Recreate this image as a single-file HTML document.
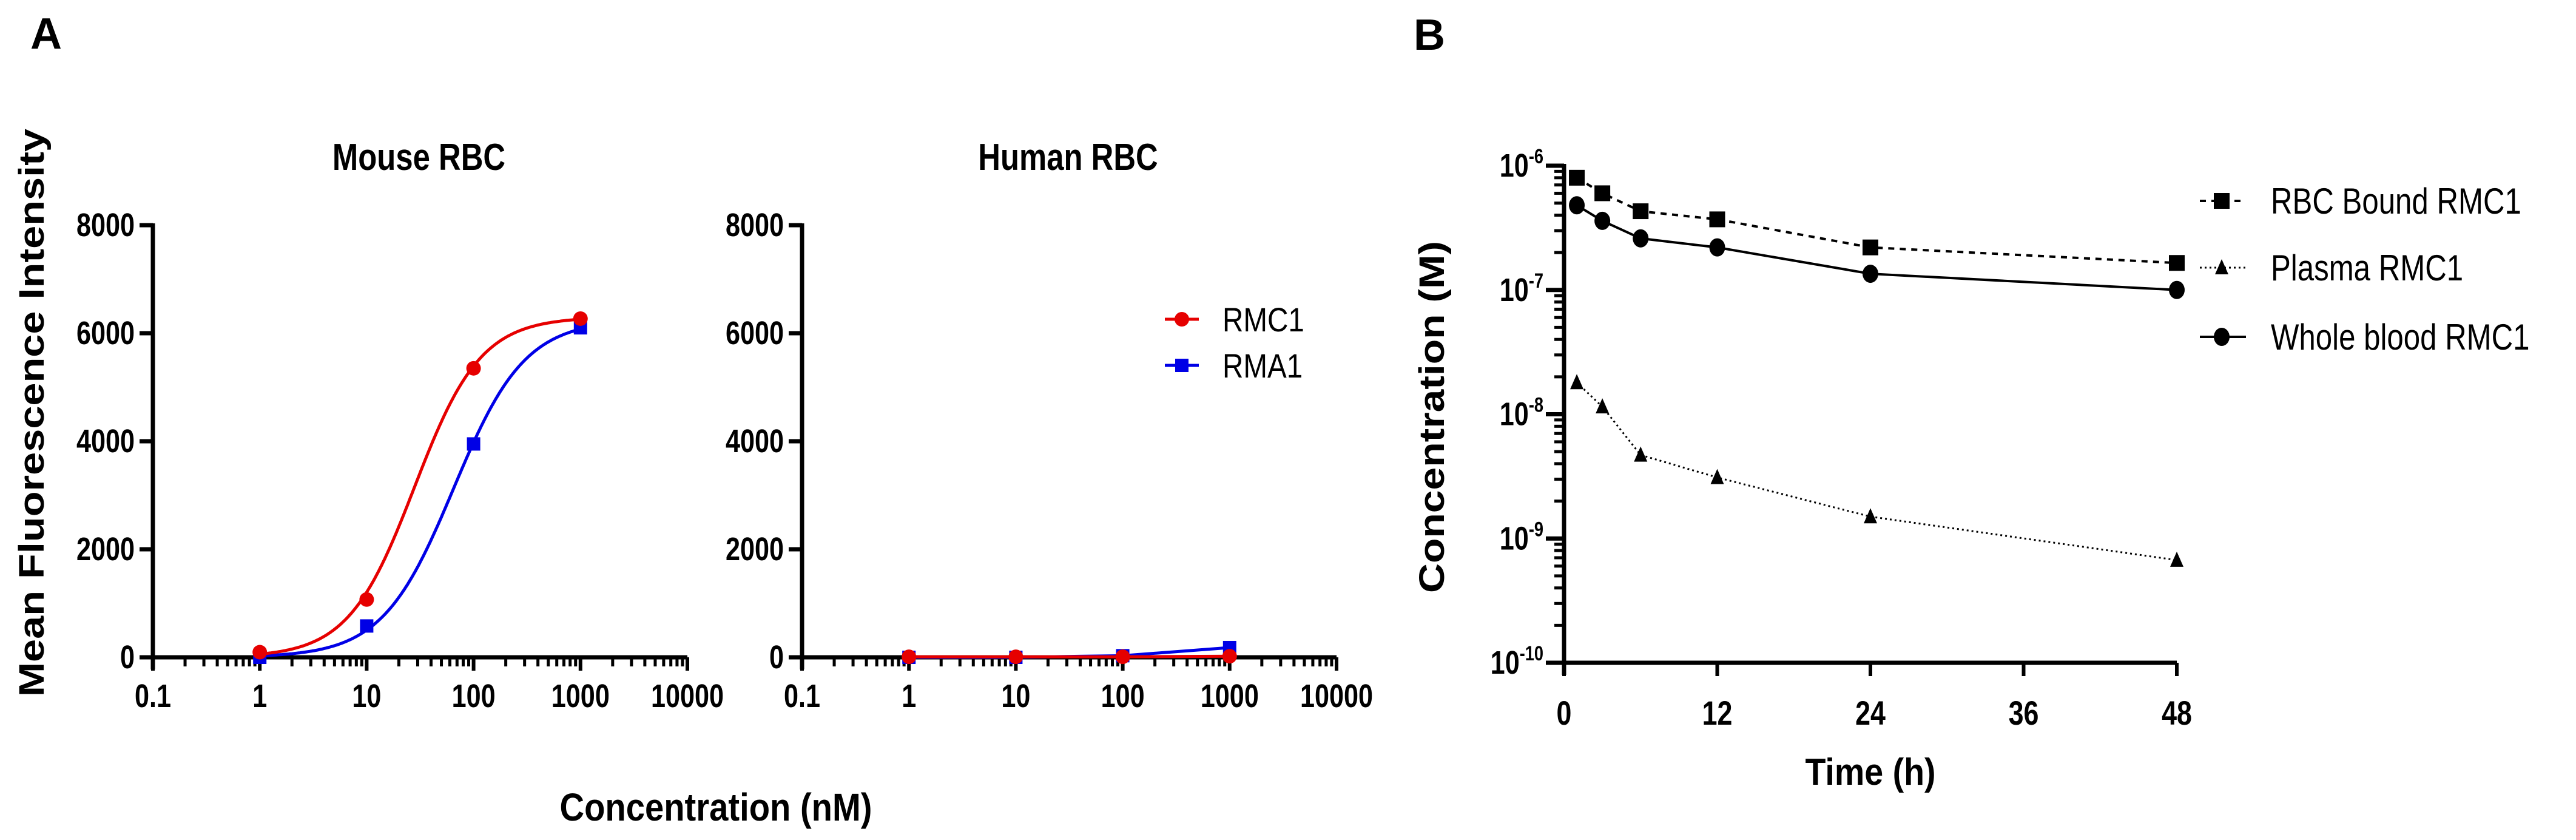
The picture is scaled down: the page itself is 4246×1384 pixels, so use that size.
<!DOCTYPE html>
<html><head><meta charset="utf-8"><style>
html,body{margin:0;padding:0;background:#fff;}
svg{display:block;}
text{font-family:"Liberation Sans",Arial,sans-serif;fill:#000;}
</style></head><body>
<svg id="fig" width="4246" height="1384" viewBox="0 0 4246 1384" xmlns="http://www.w3.org/2000/svg">
<text x="50" y="80" font-size="72" font-weight="bold">A</text>
<text x="2330" y="82" font-size="72" font-weight="bold">B</text>
<text transform="translate(72,680) rotate(-90)" text-anchor="middle" font-size="58" font-weight="bold" textLength="936" lengthAdjust="spacingAndGlyphs">Mean Fluorescence Intensity</text>
<text x="1180" y="1352" text-anchor="middle" font-size="64" font-weight="bold" textLength="515" lengthAdjust="spacingAndGlyphs">Concentration (nM)</text>
<text transform="translate(2380,687) rotate(-90)" text-anchor="middle" font-size="58" font-weight="bold" textLength="580" lengthAdjust="spacingAndGlyphs">Concentration (M)</text>
<text x="3083" y="1293" text-anchor="middle" font-size="62" font-weight="bold" textLength="215" lengthAdjust="spacingAndGlyphs">Time (h)</text>
<g id="gA"></g><g id="gB"></g>
</svg>
<script>
// Panel A data
const concA = [1, 10, 100, 1000];
const mouseRMC1 = [95, 1070, 5350, 6270];
const mouseRMA1 = [0, 580, 3950, 6100];
const humanRMC1 = [10, 10, 10, 20];
const humanRMA1 = [0, 0, 30, 180];
// fitted 4PL params: [top, EC50, hill]
const fitRMC1 = [6300, 28, 1.4];
const fitRMA1 = [6250, 65, 1.3];
const xTicksA = ["0.1", "1", "10", "100", "1000", "10000"];
const yTicksA = [0, 2000, 4000, 6000, 8000];
// Panel B data
const timeB = [1, 3, 6, 12, 24, 48];
const rbcBound = [8.0e-7, 6.0e-7, 4.3e-7, 3.7e-7, 2.2e-7, 1.65e-7];
const plasma = [1.8e-8, 1.15e-8, 4.7e-9, 3.1e-9, 1.5e-9, 6.7e-10];
const wholeBlood = [4.8e-7, 3.6e-7, 2.6e-7, 2.2e-7, 1.35e-7, 1.0e-7];
const xTicksB = [0, 12, 24, 36, 48];
const yExpB = [-10, -9, -8, -7, -6];

const NS = "http://www.w3.org/2000/svg";
function mk(tag, attrs, parent){const e=document.createElementNS(NS,tag);for(const k in attrs)e.setAttribute(k,attrs[k]);parent.appendChild(e);return e;}
function txt(parent,x,y,s,size,anchor,weight,sx){const t=mk('text',{'font-size':size,'text-anchor':anchor,'font-weight':weight,transform:`translate(${x},${y}) scale(${sx},1)`},parent);t.textContent=s;return t;}

const gA=document.getElementById('gA');
function panelA(x0, title, titleName, rmc, rma, fitted, withLegend){
  const xL=x0, xR=x0+881, yT=371, yB=1083;
  const X=v=>xL+(Math.log10(v)+1)*(xR-xL)/5;
  const Y=v=>yB-v/8000*(yB-yT);
  const g=mk('g',{},gA);
  
  
  const tt=txt(g,(xL+xR)/2-2,280,title,62,'middle','bold',0.82);
  
  
  mk('line',{x1:xL,y1:yT-3,x2:xL,y2:yB+20,stroke:'#000','stroke-width':7},g);
  mk('line',{x1:xL-22,y1:yB,x2:xR,y2:yB,stroke:'#000','stroke-width':7},g);
  yTicksA.forEach(v=>{
    mk('line',{x1:xL-22,y1:Y(v),x2:xL,y2:Y(v),stroke:'#000','stroke-width':7},g);
    const t=txt(g,xL-30,Y(v)+18,String(v),54,'end','bold',0.8);
    
    
  });
  xTicksA.forEach((s,i)=>{
    const v=parseFloat(s);
    mk('line',{x1:X(v),y1:yB,x2:X(v),y2:yB+22,stroke:'#000','stroke-width':6},g);
    const t=txt(g,X(v),yB+82,s,54,'middle','bold',0.8);
    
    
    if(i<xTicksA.length-1){for(let m=2;m<=9;m++){mk('line',{x1:X(v*m),y1:yB,x2:X(v*m),y2:yB+15,stroke:'#000','stroke-width':5},g);}}
  });
  const series=[[rma,'#0000e6','sq',fitRMA1,'RMA1'],[rmc,'#e60000','ci',fitRMC1,'RMC1']];
  series.forEach(([vals,col,mkType,fit,name])=>{
    let d='';
    if(fitted){
      for(let i=0;i<=200;i++){const lv=0+i*3/200;const c=Math.pow(10,lv);const y=fit[0]/(1+Math.pow(fit[1]/c,fit[2]));d+=(i?'L':'M')+X(c).toFixed(1)+','+Y(y).toFixed(1);}
    } else {
      vals.forEach((v,i)=>{d+=(i?'L':'M')+X(concA[i])+','+Y(v);});
    }
    const p=mk('path',{d:d,fill:'none',stroke:col,'stroke-width':5},g);
    
    
    vals.forEach((v,i)=>{
      let e;
      if(mkType==='sq') e=mk('rect',{x:X(concA[i])-11,y:Y(v)-11,width:22,height:22,fill:col},g);
      else e=mk('circle',{cx:X(concA[i]),cy:Y(v),r:12,fill:col},g);
      
      
    });
  });
  if(withLegend){
    [['RMC1','#e60000','ci',526],['RMA1','#0000e6','sq',602]].forEach(([n,c,t,y])=>{
      const lg=mk('g',{},g);
      
      
      mk('line',{x1:1920,y1:y,x2:1976,y2:y,stroke:c,'stroke-width':5},lg);
      if(t==='ci') mk('circle',{cx:1948,cy:y,r:12,fill:c},lg);
      else mk('rect',{x:1937,y:y-11,width:22,height:22,fill:c},lg);
      txt(lg,2015,y+20,n,56,'start','normal',0.85);
    });
  }
}
panelA(252,'Mouse RBC','mouse-rbc',mouseRMC1,mouseRMA1,true,false);
panelA(1322,'Human RBC','human-rbc',humanRMC1,humanRMA1,false,true);

// Panel B
const gB=document.getElementById('gB');
(function(){
  const xL=2578, xR=3588, yT=273, yB=1092;
  const X=t=>xL+t/48*(xR-xL);
  const Y=v=>yB-(Math.log10(v)+10)/4*(yB-yT);
  mk('line',{x1:xL,y1:yT-3,x2:xL,y2:yB+20,stroke:'#000','stroke-width':7},gB);
  mk('line',{x1:xL-3,y1:yB,x2:xR,y2:yB,stroke:'#000','stroke-width':7},gB);
  yExpB.forEach((e,i)=>{
    const v=Math.pow(10,e);
    mk('line',{x1:xL-30,y1:Y(v),x2:xL,y2:Y(v),stroke:'#000','stroke-width':7},gB);
    const t=mk('text',{'font-size':54,'font-weight':'bold','text-anchor':'end',transform:`translate(${xL-34},${Y(v)+18}) scale(0.8,1)`},gB);
    
    
    t.appendChild(document.createTextNode('10'));
    const ts=mk('tspan',{'font-size':34,dy:-22},t);ts.textContent=String(e);
    if(i<yExpB.length-1){for(let m=2;m<=9;m++){mk('line',{x1:xL-16,y1:Y(v*m),x2:xL,y2:Y(v*m),stroke:'#000','stroke-width':5},gB);}}
  });
  xTicksB.forEach(t=>{
    mk('line',{x1:X(t),y1:yB,x2:X(t),y2:yB+22,stroke:'#000','stroke-width':6},gB);
    const l=txt(gB,X(t),yB+102,String(t),56,'middle','bold',0.8);
    
    
  });
  const ser=[[rbcBound,'sq','10,9','rbc-bound'],[plasma,'tr','3,5','plasma'],[wholeBlood,'ci','','whole-blood']];
  ser.forEach(([vals,m,dash,name])=>{
    let d='';vals.forEach((v,i)=>{d+=(i?'L':'M')+X(timeB[i])+','+Y(v);});
    const p=mk('path',{d:d,fill:'none',stroke:'#000','stroke-width':m==='tr'?3:4,'stroke-dasharray':dash||'none'},gB);
    
    
    vals.forEach((v,i)=>{
      const cx=X(timeB[i]),cy=Y(v);let e;
      if(m==='sq') e=mk('rect',{x:cx-13,y:cy-13,width:26,height:26,fill:'#000'},gB);
      else if(m==='tr') e=mk('polygon',{points:`${cx},${cy-14} ${cx-11},${cy+11} ${cx+11},${cy+11}`,fill:'#000'},gB);
      else e=mk('ellipse',{cx:cx,cy:cy,rx:13,ry:15,fill:'#000'},gB);
      
      
    });
  });
  [['RBC Bound RMC1','sq','10,9',331],['Plasma RMC1','tr','3,5',441],['Whole blood RMC1','ci','',555]].forEach(([n,m,dash,y])=>{
    const lg=mk('g',{},gB);
    
    
    mk('line',{x1:3626,y1:y,x2:3702,y2:y,stroke:'#000','stroke-width':m==='tr'?3:4,'stroke-dasharray':dash||'none'},lg);
    const cx=3662;
    if(m==='sq') mk('rect',{x:cx-13,y:y-13,width:26,height:26,fill:'#000'},lg);
    else if(m==='tr') mk('polygon',{points:`${cx},${y-14} ${cx-11},${y+11} ${cx+11},${y+11}`,fill:'#000'},lg);
    else mk('ellipse',{cx:cx,cy:y,rx:13,ry:15,fill:'#000'},lg);
    txt(lg,3743,y+21,n,60,'start','normal',0.82);
  });
})();
</script>
</body></html>
